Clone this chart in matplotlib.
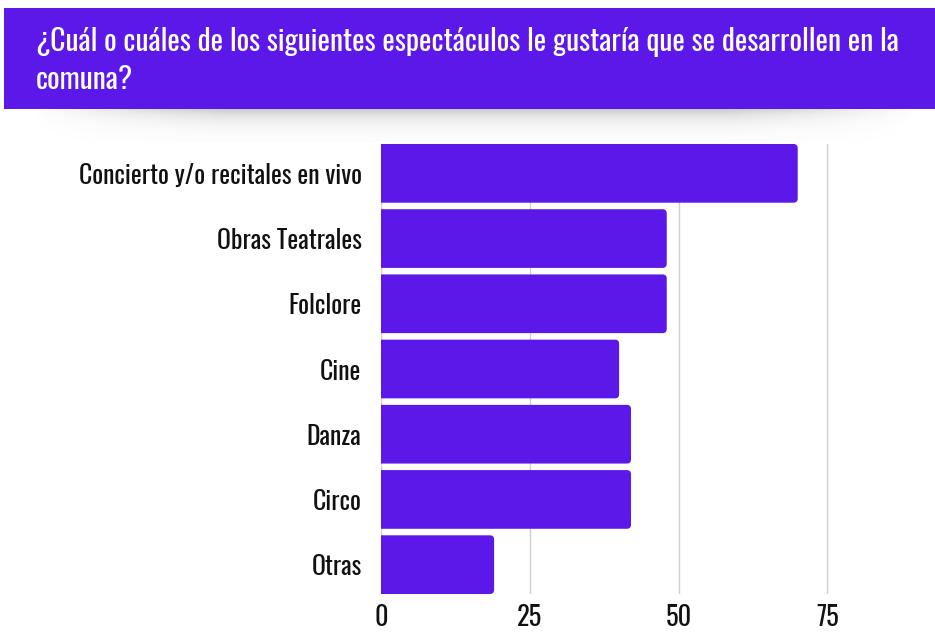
import matplotlib.pyplot as plt
import numpy as np
from matplotlib.patches import FancyBboxPatch, Rectangle
from matplotlib import font_manager

categories = ["Concierto y/o recitales en vivo", "Obras Teatrales", "Folclore",
              "Cine", "Danza", "Circo", "Otras"]
values = [70, 48, 48, 40, 42, 42, 19]
ticks = [0, 25, 50, 75]
title = "¿Cuál o cuáles de los siguientes espectáculos le gustaría que se desarrollen en la\ncomuna?"

purple = "#5b18e9"

# condensed font like the original (Oswald), first one installed wins
names = {f.name for f in font_manager.fontManager.ttflist}
fam = "DejaVu Sans"
for cand in ["Oswald", "Roboto Condensed", "Fjalla One", "Pathway Gothic One",
             "Liberation Sans Narrow", "Roboto"]:
    if cand in names:
        fam = cand
        break
plt.rcParams['font.family'] = [fam, 'DejaVu Sans']

W, H = 935, 632
fig = plt.figure(figsize=(W / 100, H / 100), dpi=100)

# background: header band + soft shadow under it
bg = fig.add_axes([0, 0, 1, 1], zorder=0)
bg.set_xlim(0, W)
bg.set_ylim(H, 0)
bg.axis("off")
yy = np.linspace(0, 1, 60)[:, None]
xx = np.linspace(0, 1, 200)[None, :]
shade = np.exp(-yy * 3.5) * np.clip(np.sin(np.pi * xx) * 1.6, 0, 1)
rgba = np.zeros((60, 200, 4))
rgba[..., :3] = 0.3
rgba[..., 3] = 0.4 * shade
bg.imshow(rgba, extent=[30, 920, 142, 106], aspect="auto", interpolation="bilinear")
bg.add_patch(Rectangle((4, 8), W - 4, 101, color=purple, lw=0))
bg.text(36, 27, title, color="white", fontsize=21.3, va="top", ha="left",
        linespacing=1.35)

# bar chart
ax = fig.add_axes([381 / W, 1 - 594 / H, (887 - 381) / W, (594 - 144) / H], zorder=1)
ax.patch.set_alpha(0)
ypos = np.arange(len(categories))
bars = ax.barh(ypos, values, height=0.9, color=purple)
ax.set_xlim(0, 85)
ax.set_ylim(len(categories) - 0.55, -0.45)

# rounded bar ends (left side clipped by the axes)
ax_w = (887 - 381) / 85.0
ax_h = (594 - 144) / (len(categories) - 0.1)
for b in bars:
    b.set_visible(False)
    r = 0.7
    p = FancyBboxPatch((b.get_x() - 2 * r, b.get_y()), b.get_width() + 2 * r, b.get_height(),
                       boxstyle=f"round,pad=0,rounding_size={r}",
                       mutation_aspect=ax_w / ax_h, color=purple, lw=0, zorder=2)
    ax.add_patch(p)

ax.set_yticks(ypos)
ax.set_yticklabels(categories, fontsize=18.5, color="#111111")
ax.set_xticks(ticks)
ax.set_xticklabels([str(t) for t in ticks], fontsize=19, color="#111111")
ax.tick_params(axis="y", length=0, pad=14)
ax.tick_params(axis="x", length=0, pad=7)
ax.grid(axis="x", color="#d0d0d0", lw=1)
ax.set_axisbelow(True)
for s in ax.spines.values():
    s.set_visible(False)

fig.savefig("out.png", dpi=100, facecolor="white")
